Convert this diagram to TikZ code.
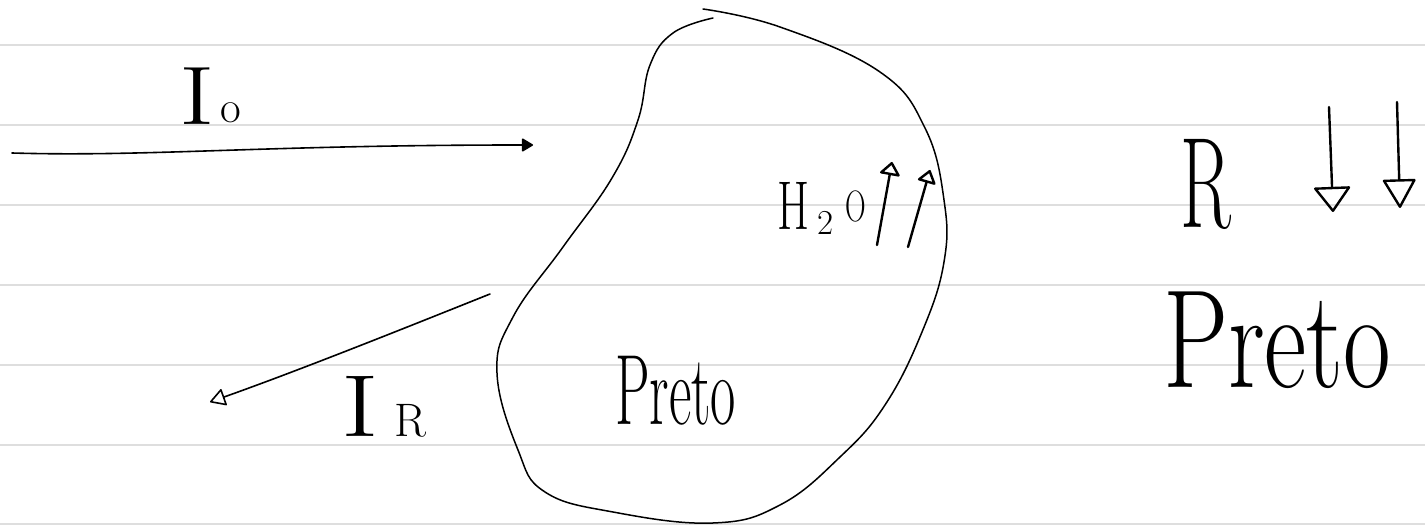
\documentclass[tikz,border=0pt]{standalone}
\usepackage{fontspec}
\usepackage{graphicx}
\usetikzlibrary{arrows.meta}
\begin{document}
\begin{tikzpicture}[x=1pt,y=-1pt,
  rule/.style={line width=2.5pt, draw=black!13},
  ink/.style={line width=1.6pt, line cap=round, line join=round},
  pen/.style={line width=2.4pt, line cap=round, line join=round},
  txt/.style={inner sep=0pt, outer sep=0pt, anchor=base},
]
\useasboundingbox (0,0) rectangle (1425,526);
\fill[white] (0,0) rectangle (1425,526);
\foreach \y in {45,125,205,285,365,445,524} \draw[rule] (0,\y) -- (1425,\y);

% blob
\draw[ink,line width=1.5pt] plot[smooth, tension=0.7] coordinates {
 (703,9) (780,27) (880,72) (925,128) (944,200) (944,262) (922,332)
 (885,405) (840,457) (780,505) (713,523) (613,512) (545,492) (518,450)
 (497,373) (513,317) (563,247) (612,178) (638,120) (650,65) (673,33)
 (713,18)};

% incident beam
\coordinate (IoS) at (12,153);
\coordinate (IoE) at (533,145);
\draw[ink,-{Triangle[length=12pt,width=14pt,round]}] (IoS) .. controls (150,157) and (260,145) .. (IoE);
\node[txt] (Io) at (197,125) {\fontsize{83}{83}\selectfont\scalebox{1.3}[1]{I}};
\node[txt] (Iosub) at (231,123) {\fontsize{45}{45}\selectfont o};

% reflected beam
\coordinate (IRS) at (490,294);
\coordinate (IRE) at (210,402);
\draw[ink,-{Triangle[open,length=16pt,width=18pt,round]}] (IRS) .. controls (400,330) and (300,370) .. (IRE);
\node[txt] (IR) at (360,437) {\fontsize{88}{88}\selectfont\scalebox{1.3}[1]{I}};
\node[txt] (IRsub) at (410,437) {\fontsize{47}{47}\selectfont R};

% H2O up up
\node[txt] (hH) at (794,230) {\fontsize{69}{69}\selectfont\scalebox{0.67}[1]{H}};
\node[txt] (h2) at (826,235) {\fontsize{35}{35}\selectfont 2};
\node[txt] (hO) at (856,222) {\fontsize{44}{44}\selectfont\scalebox{0.65}[1]{O}};
\coordinate (w1s) at (877,245);
\coordinate (w1e) at (892,162);
\coordinate (w2s) at (908,247);
\coordinate (w2e) at (930,170);
\draw[pen,-{Triangle[open,length=14pt,width=22pt,round]}] (w1s) -- (w1e);
\draw[pen,-{Triangle[open,length=14pt,width=20pt,round]}] (w2s) -- (w2e);

% Preto inside
\node[txt,anchor=base west] (p1) at (615,425) {\fontsize{100}{100}\selectfont\scalebox{0.55}[1]{Preto}};

% right side
\node[txt] (RR) at (1206,228) {\fontsize{129}{129}\selectfont\scalebox{0.58}[1]{R}};
\coordinate (d1s) at (1329,107);
\coordinate (d1e) at (1333,212);
\coordinate (d2s) at (1397,102);
\coordinate (d2e) at (1400,208);
\draw[pen,-{Triangle[open,length=26pt,width=38pt,round]}] (d1s) -- (d1e);
\draw[pen,-{Triangle[open,length=30pt,width=34pt,round]}] (d2s) -- (d2e);
\node[txt,anchor=base west] (p2) at (1163,388) {\fontsize{140}{140}\selectfont\scalebox{0.74}[1]{Preto}};
\end{tikzpicture}
\end{document}
